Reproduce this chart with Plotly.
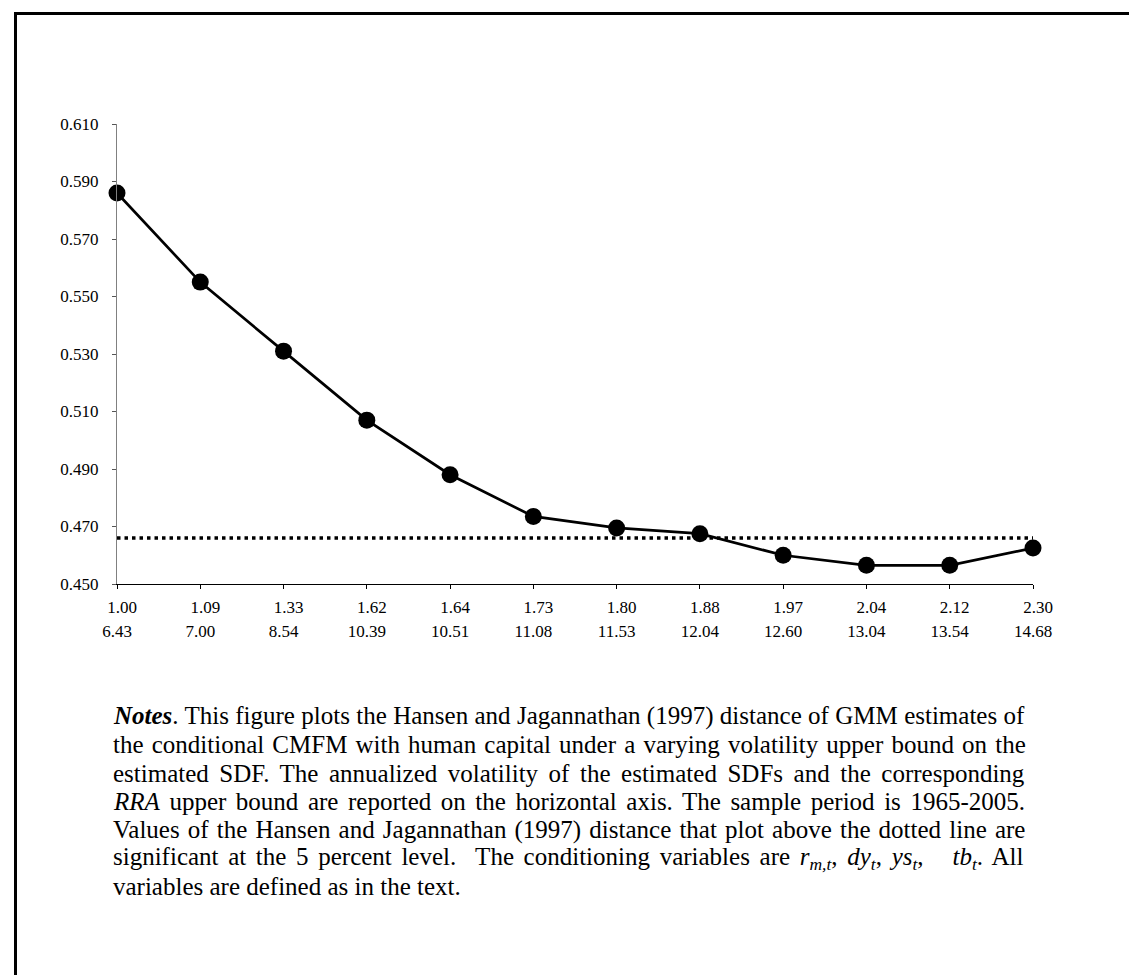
import plotly.graph_objects as go

# ---- data ----
vol_labels = ["1.00", "1.09", "1.33", "1.62", "1.64", "1.73", "1.80", "1.88", "1.97", "2.04", "2.12", "2.30"]
rra_labels = ["6.43", "7.00", "8.54", "10.39", "10.51", "11.08", "11.53", "12.04", "12.60", "13.04", "13.54", "14.68"]
hj_distance = [0.586, 0.555, 0.531, 0.507, 0.488, 0.4735, 0.4695, 0.4675, 0.460, 0.4565, 0.4565, 0.4625]
critical_value = 0.466
y_ticks = [0.450, 0.470, 0.490, 0.510, 0.530, 0.550, 0.570, 0.590, 0.610]

notes_lines = [
    "<b><i>Notes</i></b>. This figure plots the Hansen and Jagannathan (1997) distance of GMM estimates of",
    "the conditional CMFM with human capital under a varying volatility upper bound on the",
    "estimated SDF. The annualized volatility of the estimated SDFs and the corresponding",
    "<i>RRA</i> upper bound are reported on the horizontal axis. The sample period is 1965-2005.",
    "Values of the Hansen and Jagannathan (1997) distance that plot above the dotted line are",
    "significant at the 5 percent level.  The conditioning variables are <i>r<sub>m,t</sub></i>, <i>dy<sub>t</sub></i>, <i>ys<sub>t</sub></i>,   <i>tb<sub>t</sub></i>. All",
    "variables are defined as in the text.",
]
# extra word spacing (px) to justify each line like the reference
notes_word_spacing = [0.1, 1.9, 4.3, 3.3, 1.9, 3.4, 0]

W, H = 1137, 975
L, R, T, B = 109, 112, 116, 399
PW, PH = W - L - R, H - T - B


def px(xp):
    return (xp - L) / PW


def py(yp):
    return (H - B - yp) / PH


FONT = "Liberation Serif, Times New Roman, serif"
idx = list(range(len(vol_labels)))

fig = go.Figure()
fig.add_trace(go.Scatter(
    x=[idx[0], idx[-1]], y=[critical_value, critical_value], mode="lines",
    line=dict(color="black", width=3.5, dash="3.5px,4px"), showlegend=False, cliponaxis=False,
))
fig.add_trace(go.Scatter(
    x=idx, y=hj_distance, mode="lines+markers",
    line=dict(color="black", width=2.7),
    marker=dict(color="black", size=17), showlegend=False, cliponaxis=False,
))
# invisible trace for the second row of x labels (RRA bound)
fig.add_trace(go.Scatter(x=idx, y=hj_distance, xaxis="x2", mode="none", showlegend=False, hoverinfo="skip"))

fig.update_layout(
    width=W, height=H,
    margin=dict(l=L, r=R, t=T, b=B, pad=0),
    paper_bgcolor="white", plot_bgcolor="white",
    font=dict(family=FONT, size=17, color="black"),
    xaxis=dict(
        range=[0, len(idx) - 1], tickvals=idx, ticktext=vol_labels,
        showline=True, linecolor="black", linewidth=1.3,
        ticks="outside", ticklen=4, tickcolor="black", tickwidth=1.3,
        showgrid=False, zeroline=False, ticklabelstandoff=3, ticklabelshift=5,
        tickfont=dict(family=FONT, size=17, color="black"),
    ),
    xaxis2=dict(
        range=[0, len(idx) - 1], tickvals=idx, ticktext=rra_labels,
        overlaying="x", anchor="y", side="bottom",
        showline=False, ticks="", showgrid=False, zeroline=False,
        ticklabelstandoff=35,
        tickfont=dict(family=FONT, size=17, color="black"),
    ),
    yaxis=dict(
        range=[0.45, 0.61], tickvals=y_ticks, ticktext=[f"{v:.3f}" for v in y_ticks],
        showline=True, linecolor="#808080", linewidth=1.3,
        ticks="outside", ticklen=4, tickcolor="#555555", tickwidth=1.3,
        showgrid=False, zeroline=False, ticklabelstandoff=10,
        tickfont=dict(family=FONT, size=17, color="black"),
    ),
)

# frame around the figure
fig.add_shape(type="rect", xref="paper", yref="paper",
              x0=px(7.5), x1=px(1150), y0=py(972.5), y1=py(5.5),
              line=dict(color="black", width=3), fillcolor="rgba(0,0,0,0)", layer="below")

line_y = [708, 736.5, 765, 793.5, 822, 850.5, 879]
for text, ws, yp in zip(notes_lines, notes_word_spacing, line_y):
    fig.add_annotation(
        xref="paper", yref="paper", x=px(103), y=py(yp),
        xanchor="left", yanchor="middle", showarrow=False,
        text=f"<span style='word-spacing:{ws}px'>{text}</span>", align="left",
        font=dict(family=FONT, size=25, color="black"),
    )

fig.write_html("out.html")
